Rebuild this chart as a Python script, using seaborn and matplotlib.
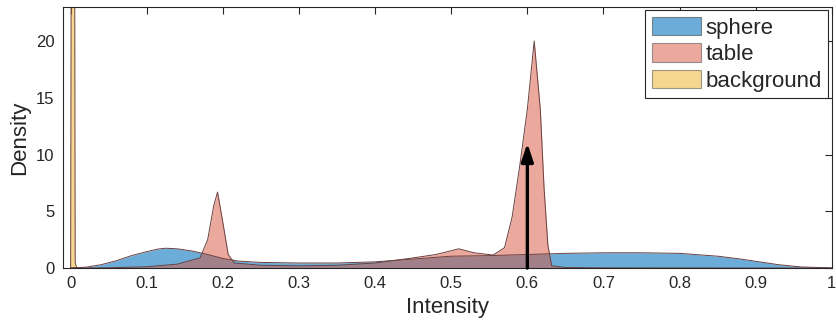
import matplotlib
matplotlib.use("Agg")
import matplotlib.pyplot as plt
from matplotlib.patches import Patch
import pandas as pd
import seaborn as sns

# ---- densities ----
sphere_x = [0.0, 0.02, 0.04, 0.06, 0.08, 0.10, 0.115, 0.125, 0.14, 0.16, 0.18, 0.20, 0.22,
            0.25, 0.30, 0.35, 0.40, 0.45, 0.50, 0.55, 0.60, 0.65, 0.70, 0.75, 0.80,
            0.85, 0.88, 0.90, 0.93, 0.96, 1.0]
sphere_d = [0.02, 0.08, 0.3, 0.65, 1.1, 1.45, 1.68, 1.75, 1.7, 1.5, 1.2, 0.85, 0.62,
            0.5, 0.45, 0.45, 0.55, 0.8, 1.05, 1.1, 1.2, 1.3, 1.35, 1.35, 1.3,
            1.05, 0.8, 0.6, 0.3, 0.1, 0.02]

table_x = [0.0, 0.05, 0.10, 0.14, 0.17, 0.18, 0.188, 0.193, 0.20, 0.207, 0.215, 0.25,
           0.30, 0.35, 0.40, 0.45, 0.48, 0.51, 0.53, 0.555, 0.57, 0.58, 0.59, 0.60,
           0.609, 0.617, 0.622, 0.627, 0.632, 0.65, 0.70, 1.0]
table_d = [0.0, 0.03, 0.12, 0.35, 0.9, 2.5, 5.5, 6.7, 4.0, 1.2, 0.45, 0.25,
           0.2, 0.25, 0.45, 0.9, 1.2, 1.7, 1.35, 1.15, 1.8, 4.5, 9.0, 14.0,
           20.0, 14.0, 7.0, 2.0, 0.2, 0.05, 0.02, 0.0]

background_x = [0.0, 0.001, 0.003, 0.005, 0.006, 0.008]
background_d = [0.0, 40.0, 80.0, 40.0, 0.5, 0.0]

regions = ["sphere", "table", "background"]
colors = {"sphere": "#0072BD", "table": "#D9553C", "background": "#EDB120"}
alphas = {"sphere": 0.58, "table": 0.5, "background": 0.5}

arrow_x = 0.6
arrow_top = 11.0

df = pd.concat([
    pd.DataFrame({"Intensity": sphere_x, "Density": sphere_d, "region": "sphere"}),
    pd.DataFrame({"Intensity": table_x, "Density": table_d, "region": "table"}),
    pd.DataFrame({"Intensity": background_x, "Density": background_d, "region": "background"}),
], ignore_index=True)

sns.set_theme(style="white")
plt.rcParams['font.family'] = ['Liberation Sans', 'DejaVu Sans']

fig = plt.figure(figsize=(8.36, 3.31), dpi=100)
ax = fig.add_axes([0.0754, 0.19, 0.9196, 0.789])

for r in regions:
    sub = df[df["region"] == r]
    ax.fill_between(sub["Intensity"], 0, sub["Density"], color=colors[r],
                    alpha=alphas[r], linewidth=0)
sns.lineplot(data=df, x="Intensity", y="Density", hue="region", units="region",
             estimator=None, sort=False, palette={r: "#6a4040" for r in regions},
             linewidth=0.7, legend=False, ax=ax)

ax.annotate("", xy=(arrow_x, arrow_top), xytext=(arrow_x, 0),
            arrowprops=dict(arrowstyle="-|>,head_length=0.9,head_width=0.3",
                            color="black", lw=2.4, shrinkA=0, shrinkB=0))

ax.set_xlim(-0.01, 1.0)
ax.set_ylim(0, 23)
ax.set_xticks([0, 0.1, 0.2, 0.3, 0.4, 0.5, 0.6, 0.7, 0.8, 0.9, 1.0])
ax.set_xticklabels(["0", "0.1", "0.2", "0.3", "0.4", "0.5", "0.6", "0.7", "0.8", "0.9", "1"])
ax.set_yticks([0, 5, 10, 15, 20])
ax.tick_params(direction="in", top=True, right=True, length=5, width=0.8,
               colors="#262626", labelsize=12, pad=6)
for s in ax.spines.values():
    s.set_color("#262626")
    s.set_linewidth(0.8)
ax.set_xlabel("Intensity", fontsize=16, color="#262626", labelpad=4)
ax.set_ylabel("Density", fontsize=16, color="#262626", labelpad=4)

handles = [Patch(facecolor=colors[r], alpha=alphas[r], edgecolor="#404040", linewidth=0.8)
           for r in regions]
leg = ax.legend(handles, regions, loc="upper right", fontsize=16, frameon=True,
                fancybox=False, framealpha=1, edgecolor="#262626",
                handlelength=2.2, handleheight=0.9, handletextpad=0.2,
                labelspacing=0.2, borderpad=0.3, borderaxespad=0.15)
leg.get_frame().set_linewidth(0.8)

fig.savefig("out.png", dpi=100)
